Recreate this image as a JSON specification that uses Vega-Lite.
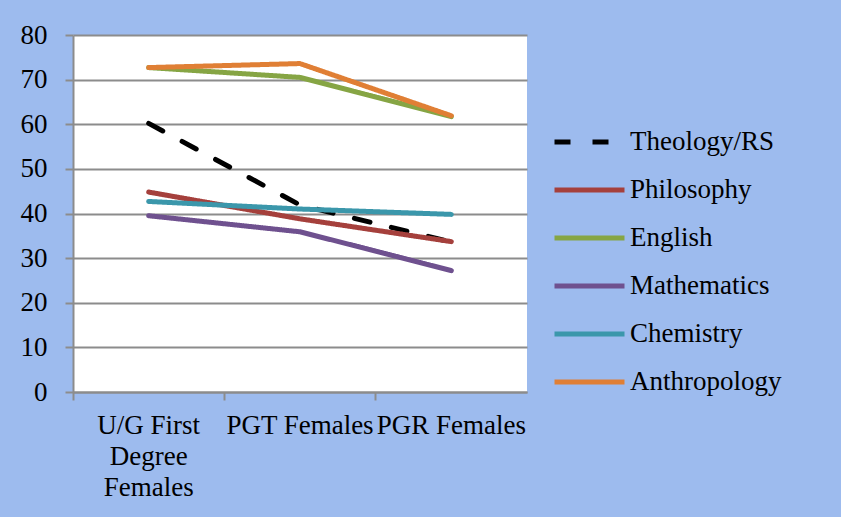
{
  "$schema": "https://vega.github.io/schema/vega-lite/v6.json",
  "width": 454,
  "height": 357,
  "autosize": {"type": "none"},
  "padding": {"left": 73, "top": 35, "right": 314, "bottom": 125},
  "background": "#9dbbee",
  "config": {
    "view": {"fill": "white", "stroke": null},
    "font": "Liberation Serif",
    "axis": {
      "labelFont": "Liberation Serif",
      "labelFontSize": 27,
      "labelColor": "black",
      "domainColor": "#8c8c8c",
      "domainWidth": 2,
      "tickColor": "#8c8c8c",
      "tickWidth": 2,
      "gridColor": "#8c8c8c",
      "gridWidth": 2,
      "title": null
    }
  },
  "data": {
    "values": [
      {"subject": "Theology/RS", "level": "U/G First Degree Females", "pct": 60.2},
      {"subject": "Theology/RS", "level": "PGT Females", "pct": 41.9},
      {"subject": "Theology/RS", "level": "PGR Females", "pct": 33.6},
      {"subject": "Philosophy", "level": "U/G First Degree Females", "pct": 44.8},
      {"subject": "Philosophy", "level": "PGT Females", "pct": 38.8},
      {"subject": "Philosophy", "level": "PGR Females", "pct": 33.7},
      {"subject": "English", "level": "U/G First Degree Females", "pct": 72.7},
      {"subject": "English", "level": "PGT Females", "pct": 70.5},
      {"subject": "English", "level": "PGR Females", "pct": 61.7},
      {"subject": "Mathematics", "level": "U/G First Degree Females", "pct": 39.5},
      {"subject": "Mathematics", "level": "PGT Females", "pct": 35.9},
      {"subject": "Mathematics", "level": "PGR Females", "pct": 27.2},
      {"subject": "Chemistry", "level": "U/G First Degree Females", "pct": 42.7},
      {"subject": "Chemistry", "level": "PGT Females", "pct": 41.0},
      {"subject": "Chemistry", "level": "PGR Females", "pct": 39.8},
      {"subject": "Anthropology", "level": "U/G First Degree Females", "pct": 72.7},
      {"subject": "Anthropology", "level": "PGT Females", "pct": 73.6},
      {"subject": "Anthropology", "level": "PGR Females", "pct": 61.9}
    ]
  },
  "mark": {"type": "line", "strokeWidth": 5, "strokeCap": "round", "strokeJoin": "round"},
  "encoding": {
    "x": {
      "field": "level",
      "type": "nominal",
      "sort": ["U/G First Degree Females", "PGT Females", "PGR Females"],
      "scale": {"type": "band", "paddingInner": 0, "paddingOuter": 0},
      "bandPosition": 0.5,
      "axis": {
        "labelAngle": 0,
        "bandPosition": 0,
        "tickSize": 8,
        "labelPadding": 12,
        "labelLineHeight": 31,
        "grid": false,
        "labelExpr": "datum.label == 'U/G First Degree Females' ? ['U/G First', 'Degree', 'Females'] : datum.label"
      }
    },
    "y": {
      "field": "pct",
      "type": "quantitative",
      "scale": {"domain": [0, 80], "nice": false},
      "axis": {
        "values": [0, 10, 20, 30, 40, 50, 60, 70, 80],
        "tickSize": 8,
        "labelPadding": 18,
        "grid": true,
        "domain": true
      }
    },
    "color": {
      "field": "subject",
      "type": "nominal",
      "scale": {
        "domain": ["Theology/RS", "Philosophy", "English", "Mathematics", "Chemistry", "Anthropology"],
        "range": ["#000000", "#a5403c", "#86a544", "#6f518f", "#3b97ab", "#e07f35"]
      },
      "legend": {
        "title": null,
        "orient": "none",
        "legendX": 479,
        "legendY": 83,
        "symbolType": "stroke",
        "symbolSize": 4900,
        "symbolStrokeWidth": 5,
        "labelFont": "Liberation Serif",
        "labelFontSize": 27,
        "labelColor": "black",
        "labelOffset": 3,
        "clipHeight": 48,
        "rowPadding": 0,
        "padding": 0
      }
    },
    "strokeDash": {
      "field": "subject",
      "type": "nominal",
      "scale": {
        "domain": ["Theology/RS", "Philosophy", "English", "Mathematics", "Chemistry", "Anthropology"],
        "range": [[16, 22], [1, 0], [1, 0], [1, 0], [1, 0], [1, 0]]
      },
      "legend": null
    }
  }
}
